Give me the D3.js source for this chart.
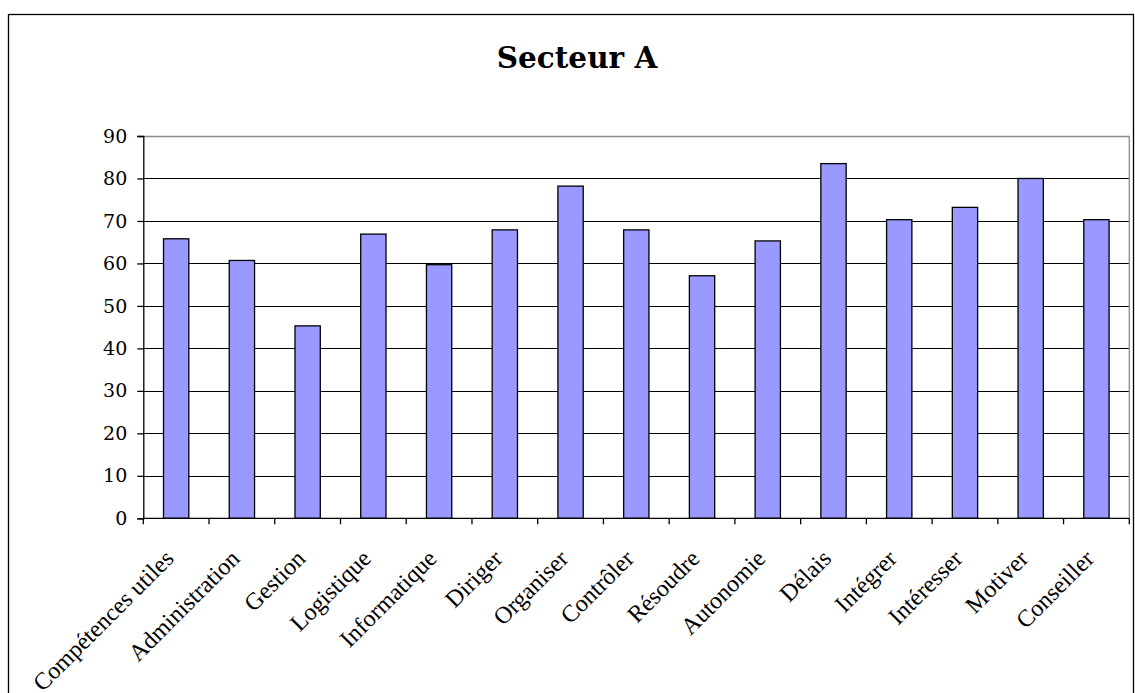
<!DOCTYPE html>
<html>
<head>
<meta charset="utf-8">
<script src="https://cdn.jsdelivr.net/npm/d3@7"></script>
<style>
  html, body { margin: 0; padding: 0; background: #fff; }
  svg { display: block; }
</style>
</head>
<body>
<svg id="chart" width="1135" height="693"></svg>
<script>
const title = "Secteur A";
const categories = ["Compétences utiles", "Administration", "Gestion", "Logistique", "Informatique",
  "Diriger", "Organiser", "Contrôler", "Résoudre", "Autonomie", "Délais", "Intégrer",
  "Intéresser", "Motiver", "Conseiller"];
const values = [65.8, 60.7, 45.3, 66.9, 59.7, 67.9, 78.2, 67.9, 57.1, 65.3, 83.5, 70.3, 73.2, 80.0, 70.3];
const yTicks = [0, 10, 20, 30, 40, 50, 60, 70, 80, 90];

const svg = d3.select("#chart");
const W = 1135, H = 693;
const plot = { left: 143.3, right: 1129.3, top: 136, bottom: 518.3 };

svg.append("rect").attr("width", W).attr("height", H).attr("fill", "#fff");

// outer chart border
svg.append("rect")
  .attr("x", 8.5).attr("y", 14.5)
  .attr("width", 1125).attr("height", 720)
  .attr("fill", "none").attr("stroke", "#000").attr("stroke-width", 1.3);

// title
svg.append("text")
  .attr("x", 577).attr("y", 68)
  .attr("text-anchor", "middle")
  .attr("font-family", "DejaVu Serif")
  .attr("font-weight", "bold")
  .attr("font-size", 29.5)
  .attr("fill", "#000")
  .text(title);

const x = d3.scaleBand().domain(categories).range([plot.left, plot.right]).padding(0);
const y = d3.scaleLinear().domain([0, 90]).range([plot.bottom, plot.top]);
const barW = x.bandwidth() * 0.385;

// gridlines
svg.append("g")
  .selectAll("line")
  .data(yTicks.filter(t => t > 0 && t < 90))
  .join("line")
  .attr("x1", plot.left).attr("x2", plot.right)
  .attr("y1", d => Math.round(y(d)) + 0.5).attr("y2", d => Math.round(y(d)) + 0.5)
  .attr("stroke", "#000").attr("stroke-width", 1);

// plot area border top & right (gray)
svg.append("path")
  .attr("d", `M${plot.left},${Math.round(y(90)) + 0.5}H${plot.right}V${plot.bottom}`)
  .attr("fill", "none").attr("stroke", "#8c8c8c").attr("stroke-width", 1.3);

// bars
svg.append("g")
  .selectAll("rect")
  .data(values)
  .join("rect")
  .attr("x", (d, i) => x(categories[i]) + (x.bandwidth() - barW) / 2)
  .attr("y", d => y(d))
  .attr("width", barW)
  .attr("height", d => y(0) - y(d))
  .attr("fill", "#9999ff")
  .attr("stroke", "#000")
  .attr("stroke-width", 1.3);

// y axis
const yAxis = d3.axisLeft(y).tickValues(yTicks).tickSize(6).tickPadding(10);
const gy = svg.append("g").attr("transform", `translate(${plot.left},0)`).call(yAxis);
gy.select(".domain").attr("stroke", "#000").attr("stroke-width", 1.3);
gy.selectAll(".tick line").attr("stroke", "#000").attr("stroke-width", 1.3);
gy.selectAll(".tick text")
  .attr("font-family", "DejaVu Serif")
  .attr("font-size", 19)
  .attr("fill", "#000");

// x axis: ticks at category boundaries
const bounds = categories.map(c => x(c)).concat([x(categories[categories.length - 1]) + x.bandwidth()]);
svg.append("line")
  .attr("x1", plot.left).attr("x2", plot.right)
  .attr("y1", plot.bottom).attr("y2", plot.bottom)
  .attr("stroke", "#000").attr("stroke-width", 1.3);
svg.append("g")
  .selectAll("line")
  .data(bounds)
  .join("line")
  .attr("x1", d => d).attr("x2", d => d)
  .attr("y1", plot.bottom).attr("y2", plot.bottom + 6)
  .attr("stroke", "#000").attr("stroke-width", 1.3);

// x labels
svg.append("g")
  .selectAll("text")
  .data(categories)
  .join("text")
  .attr("transform", d => `translate(${x(d) + x.bandwidth() / 2 - 1},560) rotate(-45)`)
  .attr("text-anchor", "end")
  .attr("font-family", "Liberation Serif")
  .attr("font-size", 24)
  .attr("fill", "#000")
  .text(d => d);
</script>
</body>
</html>
